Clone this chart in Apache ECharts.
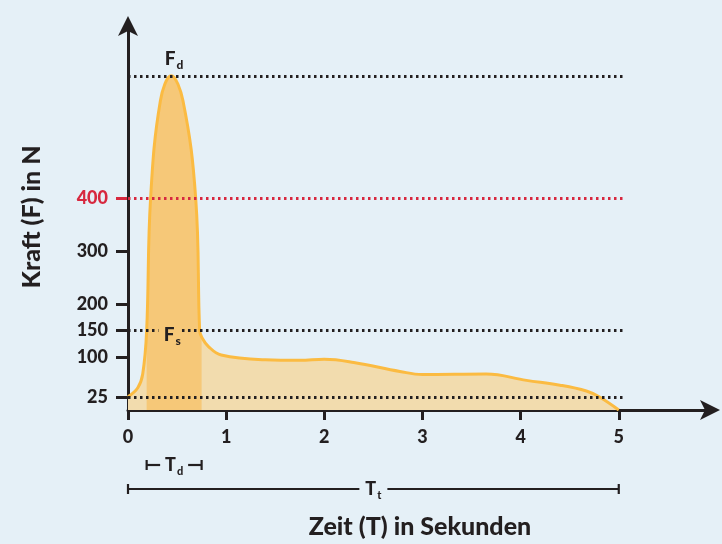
<!DOCTYPE html>
<html>
<head>
<meta charset="utf-8">
<script src="https://cdn.jsdelivr.net/npm/echarts@6/dist/echarts.min.js"></script>
<style>
  html, body { margin: 0; background: #e5f0f7; }
  #chart { width: 722px; height: 544px; }
</style>
</head>
<body>
<div id="chart"></div>
<script>
// Kraftverlauf
var zeit  = [0, 0.1, 0.15, 0.19, 0.23, 0.33, 0.44, 0.56, 0.69, 0.73, 0.75, 0.82, 0.95, 1.4, 1.75, 2.0, 2.3, 2.77, 3.0, 3.65, 4.06, 4.4, 4.67, 4.8, 5];
var kraft = [25, 42, 68, 150, 400, 585, 632, 585, 400, 150, 138, 120, 104, 95, 94, 96, 90, 73, 67, 68, 56, 47, 36, 25, 0];

var xTicks = [0, 1, 2, 3, 4, 5];
var yTicks = [25, 100, 150, 200, 300, 400];

var fd = 632, fs = 150, grenze = 400, basis = 25;
var tdRange = [0.19, 0.75];
var ttRange = [0, 5];
var lineEnd = 5.07;

var bg = '#e5f0f7';
var ink = '#231f20';
var rot = '#d7283f';
var orange = '#fbbb42';
var fontFam = 'Lato, "DejaVu Sans", sans-serif';

var kurve = zeit.map(function (t, i) { return [t, kraft[i]]; });
var band = kurve.filter(function (p) { return p[0] >= tdRange[0] && p[0] <= tdRange[1]; });

function hLine(y, from, to, color) {
    return [
        { coord: [from, y], lineStyle: { color: color } },
        { coord: [to, y] }
    ];
}

var chart = echarts.init(document.getElementById('chart'));

chart.setOption({
    backgroundColor: bg,
    animation: false,
    grid: { left: 128, right: 10, top: 24, bottom: 133 },
    xAxis: {
        type: 'value',
        min: 0,
        max: 5.95,
        name: 'Zeit (T) in Sekunden',
        nameLocation: 'middle',
        nameGap: 104,
        nameTextStyle: { color: ink, fontSize: 25, fontWeight: 900, fontFamily: fontFam },
        splitLine: { show: false },
        axisLine: {
            lineStyle: { color: ink, width: 3 },
            symbol: ['none', 'arrow'],
            symbolSize: [15, 20],
            symbolOffset: [0, 8]
        },
        axisTick: { customValues: xTicks, length: 10, lineStyle: { color: ink, width: 3 } },
        axisLabel: {
            customValues: xTicks, margin: 18,
            color: ink, fontSize: 18, fontWeight: 900, fontFamily: fontFam
        }
    },
    yAxis: {
        type: 'value',
        min: 0,
        max: 730,
        name: 'Kraft (F) in N',
        nameLocation: 'middle',
        nameGap: 84,
        nameTextStyle: { color: ink, fontSize: 25, fontWeight: 900, fontFamily: fontFam },
        splitLine: { show: false },
        axisLine: {
            lineStyle: { color: ink, width: 3 },
            symbol: ['none', 'arrow'],
            symbolSize: [15, 20],
            symbolOffset: [0, 8]
        },
        axisTick: { customValues: yTicks.filter(function (v) { return v !== grenze; }), length: 12, lineStyle: { color: ink, width: 3 } },
        axisLabel: {
            customValues: yTicks, margin: 20,
            fontSize: 18, fontWeight: 900, fontFamily: fontFam,
            color: function (v) { return +v === grenze ? rot : ink; }
        }
    },
    series: [
        {
            // helle Flaeche unter der ganzen Kurve
            type: 'line', data: kurve, smooth: 0.4, symbol: 'none', z: 1,
            lineStyle: { width: 0 },
            areaStyle: { color: '#f2dcae', opacity: 1 }
        },
        {
            // dunkler Bereich Td
            type: 'line', data: band, smooth: 0.4, symbol: 'none', z: 2,
            lineStyle: { width: 0 },
            areaStyle: { color: '#f6c878', opacity: 1 }
        },
        {
            type: 'line', data: kurve, smooth: 0.4, symbol: 'none', z: 3,
            lineStyle: { color: orange, width: 3 },
            markLine: {
                silent: true,
                symbol: ['none', 'none'],
                label: { show: false },
                lineStyle: { color: ink, type: [2.5, 3.5], width: 2.8 },
                data: [
                    hLine(fd, 0, lineEnd, ink),
                    hLine(grenze, 0, lineEnd, rot),
                    hLine(fs, 0, 0.31, ink),
                    hLine(fs, 0.55, lineEnd, ink),
                    hLine(basis, 0, lineEnd, ink)
                ]
            },
            markPoint: {
                symbol: 'circle',
                symbolSize: 0,
                silent: true,
                label: {
                    show: true,
                    color: ink,
                    fontFamily: fontFam,
                    fontWeight: 'bold',
                    rich: {
                        f: { fontSize: 19, fontWeight: 900, color: ink, fontFamily: fontFam },
                        s: { fontSize: 12, fontWeight: 900, color: ink, fontFamily: fontFam, padding: [13, 0, 0, 1] }
                    }
                },
                data: [
                    { coord: [0.45, fd], label: { formatter: '{f|F}{s|d}', offset: [2, -17] } },
                    { coord: [0.44, fs], label: { formatter: '{f|F}{s|s}', offset: [1, 4] } }
                ]
            }
        }
    ]
});

// Zeitmarken unter der Achse
function px(t) { return chart.convertToPixel({ gridIndex: 0 }, [t, 0])[0]; }

function bracket(t0, t1, y, sub) {
    var x0 = px(t0), x1 = px(t1), mid = (x0 + x1) / 2, gap = 14;
    var style = { stroke: ink, lineWidth: 2.2 };
    return [
        { type: 'line', shape: { x1: x0, y1: y - 5, x2: x0, y2: y + 5 }, style: style },
        { type: 'line', shape: { x1: x0, y1: y, x2: mid - gap, y2: y }, style: style },
        { type: 'line', shape: { x1: mid + gap, y1: y, x2: x1, y2: y }, style: style },
        { type: 'line', shape: { x1: x1, y1: y - 5, x2: x1, y2: y + 5 }, style: style },
        {
            type: 'text', x: mid, y: y,
            style: {
                text: '{f|T}{s|' + sub + '}',
                align: 'center', verticalAlign: 'middle',
                rich: {
                    f: { fontSize: 18, fontWeight: 900, fill: ink, fontFamily: fontFam },
                    s: { fontSize: 11, fontWeight: 900, fill: ink, fontFamily: fontFam, padding: [13, 0, 0, 1] }
                }
            }
        }
    ];
}

var redTickY = chart.convertToPixel({ gridIndex: 0 }, [0, grenze])[1];
var axisX = px(0);

chart.setOption({
    graphic: bracket(tdRange[0], tdRange[1], 465, 'd')
        .concat(bracket(ttRange[0], ttRange[1], 489, 't'))
        .concat([{
            type: 'line',
            shape: { x1: axisX - 12, y1: redTickY, x2: axisX, y2: redTickY },
            style: { stroke: rot, lineWidth: 3 }
        }])
});
</script>
</body>
</html>
